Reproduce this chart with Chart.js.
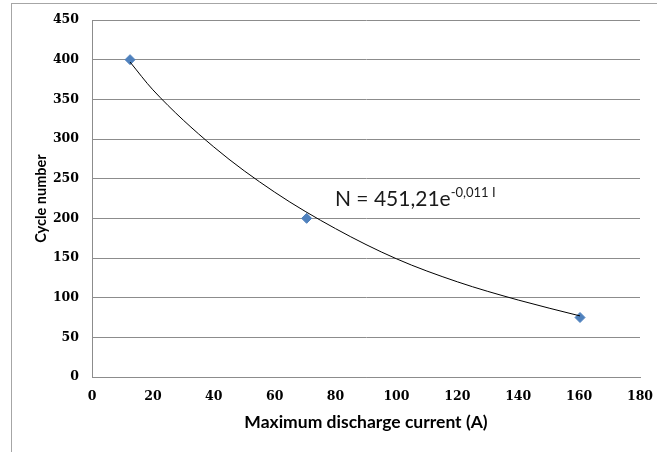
<!DOCTYPE html>
<html>
<head>
<meta charset="utf-8">
<script src="https://cdn.jsdelivr.net/npm/chart.js@4.4.1/dist/chart.umd.min.js"></script>
<style>
  html, body { margin: 0; padding: 0; background: #fff; }
  #wrap { position: relative; width: 657px; height: 452px; overflow: hidden; }
  #frame { position: absolute; left: 11px; top: 3px; width: 700px; height: 500px;
           border-left: 1px solid #a6a6a6; border-top: 1px solid #a6a6a6; }
  canvas { position: absolute; left: 0; top: 0; }
</style>
</head>
<body>
<div id="wrap">
  <div id="frame"></div>
  <canvas id="chart" width="657" height="452"></canvas>
</div>
<script>
// measured points
const currents = [12.5, 70.5, 160.3];
const cycles = [400, 200, 75];

// trend curve
const trendX = [12.5, 20, 40, 60, 80, 100, 120, 140, 160.3];
const trendY = [397, 362, 290, 233, 187, 149, 120, 97, 77];

const xTicks = [0, 20, 40, 60, 80, 100, 120, 140, 160, 180];
const yTicks = [0, 50, 100, 150, 200, 250, 300, 350, 400, 450];

const eqMain = "N = 451,21e";
const eqSup = "-0,011 I";

const tickFont = { family: "'DejaVu Serif'", size: 12.5, weight: "bold" };

// equation label placed in data units
const eqPlugin = {
    id: "equation",
    afterDatasetsDraw(chart) {
        const { ctx, scales: { x, y } } = chart;
        const px = x.getPixelForValue(79.8);
        const py = y.getPixelForValue(216);
        ctx.save();
        ctx.fillStyle = "#1a1a1a";
        ctx.textBaseline = "alphabetic";
        ctx.font = "21px Lato";
        ctx.fillText(eqMain, px, py);
        const w = ctx.measureText(eqMain).width;
        ctx.font = "13px Lato";
        ctx.fillText(eqSup, px + w, py - 9);
        ctx.restore();
    }
};

new Chart(document.getElementById("chart"), {
    type: "scatter",
    data: {
        datasets: [
            {
                data: currents.map((c, i) => ({ x: c, y: cycles[i] })),
                pointStyle: "rectRot",
                pointRadius: 5,
                pointBackgroundColor: "#4f81bd",
                pointBorderColor: "#4f81bd",
                pointBorderWidth: 1,
                showLine: false,
                order: 2
            },
            {
                data: trendX.map((c, i) => ({ x: c, y: trendY[i] })),
                showLine: true,
                borderColor: "#000",
                borderWidth: 1,
                pointRadius: 0,
                cubicInterpolationMode: "monotone",
                order: 1
            }
        ]
    },
    options: {
        responsive: false,
        animation: false,
        layout: { padding: { left: 30, top: 20, right: 17, bottom: 0 } },
        plugins: { legend: { display: false }, tooltip: { enabled: false } },
        scales: {
            x: {
                type: "linear",
                min: 0, max: 180,
                afterBuildTicks: s => { s.ticks = xTicks.map(v => ({ value: v })); },
                afterFit: s => { s.height = 75; s.paddingLeft = 0; s.paddingRight = 0; },
                grid: { display: false, drawTicks: false },
                border: { display: true, color: "#8c8c8c", width: 1 },
                ticks: { font: tickFont, color: "#000", padding: 12, maxRotation: 0 },
                title: { display: true, text: "Maximum discharge current (A)",
                         font: { family: "Lato", size: 17.5, weight: "bold" },
                         color: "#000", padding: { top: 4, bottom: 19 } }
            },
            y: {
                type: "linear",
                min: 0, max: 450,
                afterBuildTicks: s => { s.ticks = yTicks.map(v => ({ value: v })); },
                afterFit: s => { s.width = 62; s.paddingTop = 0; s.paddingBottom = 0; },
                grid: { color: "#8c8c8c", lineWidth: 1, drawTicks: false },
                border: { display: true, color: "#8c8c8c", width: 1 },
                ticks: { font: tickFont, color: "#000", padding: 13 },
                title: { display: true, text: "Cycle number",
                         font: { family: "Lato", size: 14.5, weight: "bold" },
                         color: "#000", padding: { top: 3, bottom: 0 } }
            }
        }
    },
    plugins: [eqPlugin]
});
</script>
</body>
</html>
